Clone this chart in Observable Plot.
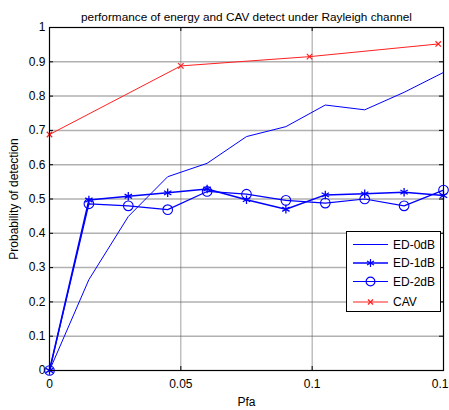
<!DOCTYPE html>
<html>
<head>
<meta charset="utf-8">
<script src="https://cdn.jsdelivr.net/npm/d3@7"></script>
<script src="https://cdn.jsdelivr.net/npm/@observablehq/plot@0.6"></script>
<style>
  html, body { margin: 0; padding: 0; background: white; overflow: hidden; }
  #wrap { position: relative; width: 449px; height: 410px; overflow: hidden; font-family: "Liberation Sans", Arial, sans-serif; }
  #legend { position: absolute; left: 346px; top: 231px; }
</style>
</head>
<body>
<div id="wrap"></div>
<script>
// ---- data ----
const title = "performance of energy and CAV detect under Rayleigh channel";
const xLabel = "Pfa";
const yLabel = "Probability of detection";
const pfa   = [0, 0.015, 0.03, 0.045, 0.06, 0.075, 0.09, 0.105, 0.12, 0.135, 0.15];
const ed0dB = [0, 0.265, 0.449, 0.565, 0.604, 0.682, 0.711, 0.774, 0.760, 0.811, 0.869];
const ed1dB = [0, 0.497, 0.508, 0.518, 0.529, 0.498, 0.470, 0.512, 0.515, 0.520, 0.510];
const ed2dB = [0, 0.486, 0.480, 0.469, 0.522, 0.514, 0.496, 0.488, 0.500, 0.480, 0.526];
const cavPfa = [0, 0.05, 0.099, 0.148];
const cav    = [0.688, 0.888, 0.915, 0.952];
const seriesNames = ["ED-0dB", "ED-1dB", "ED-2dB", "CAV"];
const xTicks = [0, 0.05, 0.1, 0.15];
const yTicks = [0, 0.1, 0.2, 0.3, 0.4, 0.5, 0.6, 0.7, 0.8, 0.9, 1];

const blue = "#0000ff", red = "#ff2020";
const rows = (xs, ys, name) => xs.map((x, i) => ({x, y: ys[i], name}));
const d0 = rows(pfa, ed0dB, seriesNames[0]);
const d1 = rows(pfa, ed1dB, seriesNames[1]);
const d2 = rows(pfa, ed2dB, seriesNames[2]);
const dc = rows(cavPfa, cav, seriesNames[3]);

const W = 449, H = 410, mL = 49, mR = 6, mT = 27, mB = 40;
const fw = W - mL - mR, fh = H - mT - mB, tk = 4;

const chart = Plot.plot({
  width: W, height: H,
  marginLeft: mL, marginRight: mR, marginTop: mT, marginBottom: mB,
  style: {fontFamily: "'Liberation Sans', Arial, sans-serif", fontSize: "12px", background: "white", color: "black"},
  x: {domain: [0, 0.15]},
  y: {domain: [0, 1]},
  marks: [
    Plot.gridY(yTicks.slice(1, -1), {stroke: "#909090", strokeOpacity: 0.7, strokeWidth: 1.5}),
    Plot.gridX(xTicks.slice(1, -1), {stroke: "#606060", strokeOpacity: 0.6, strokeWidth: 1}),
    Plot.line(d0, {x: "x", y: "y", stroke: blue, strokeWidth: 1}),
    Plot.line(d1, {x: "x", y: "y", stroke: blue, strokeWidth: 1.5}),
    Plot.dot(d1, {x: "x", y: "y", symbol: "asterisk", r: 4, stroke: blue, strokeWidth: 1.3}),
    Plot.line(d2, {x: "x", y: "y", stroke: blue, strokeWidth: 1.2}),
    Plot.dot(d2, {x: "x", y: "y", symbol: "circle", r: 4.8, fill: "none", stroke: blue, strokeWidth: 1.1}),
    Plot.line(dc, {x: "x", y: "y", stroke: red, strokeWidth: 1}),
    Plot.dot(dc, {x: "x", y: "y", symbol: "times", r: 2.6, stroke: red, strokeWidth: 1.2}),
    Plot.frame({stroke: "black", strokeWidth: 1.2}),
    Plot.tickX(xTicks, {x: d => d, insetTop: fh - tk, stroke: "black"}),
    Plot.tickX(xTicks, {x: d => d, insetBottom: fh - tk, stroke: "black"}),
    Plot.tickY(yTicks, {y: d => d, insetRight: fw - tk, stroke: "black"}),
    Plot.tickY(yTicks, {y: d => d, insetLeft: fw - tk, stroke: "black"}),
    Plot.axisX(xTicks, {tickSize: 0, tickPadding: 9, tickFormat: d => String(d), fontSize: 12,
      label: xLabel, labelAnchor: "center", labelOffset: 35, labelArrow: "none"}),
    Plot.axisY(yTicks, {tickSize: 0, tickPadding: 4, tickFormat: d => String(d), fontSize: 12,
      label: yLabel, labelAnchor: "center", labelOffset: 40, labelArrow: "none"}),
    Plot.text([title], {frameAnchor: "top", dy: -15, fontSize: 11.8, fill: "black"})
  ]
});
document.getElementById("wrap").appendChild(chart);

// legend (HTML overlay)
const ns = "http://www.w3.org/2000/svg";
const lg = document.createElementNS(ns, "svg");
lg.setAttribute("id", "legend");
lg.setAttribute("width", 95);
lg.setAttribute("height", 81);
const legendItems = [
  {name: seriesNames[0], color: blue, sym: null, sw: 1},
  {name: seriesNames[1], color: blue, sym: d3.symbolAsterisk, sw: 1.5, size: 45},
  {name: seriesNames[2], color: blue, sym: d3.symbolCircle, sw: 1.2, size: 60},
  {name: seriesNames[3], color: red, sym: d3.symbolTimes, sw: 1, size: 18}
];
const rect = document.createElementNS(ns, "rect");
rect.setAttribute("x", 0.5); rect.setAttribute("y", 0.5);
rect.setAttribute("width", 94); rect.setAttribute("height", 80);
rect.setAttribute("fill", "white"); rect.setAttribute("stroke", "black");
lg.appendChild(rect);
const rowY = [13.5, 32, 50.5, 71];
legendItems.forEach((it, i) => {
  const y = rowY[i];
  const l = document.createElementNS(ns, "line");
  l.setAttribute("x1", 7); l.setAttribute("x2", 42);
  l.setAttribute("y1", y); l.setAttribute("y2", y);
  l.setAttribute("stroke", it.color); l.setAttribute("stroke-width", it.sw);
  lg.appendChild(l);
  if (it.sym) {
    const p = document.createElementNS(ns, "path");
    p.setAttribute("d", d3.symbol(it.sym, it.size)());
    p.setAttribute("transform", `translate(24.5,${y})`);
    p.setAttribute("fill", "none"); p.setAttribute("stroke", it.color); p.setAttribute("stroke-width", 1.2);
    lg.appendChild(p);
  }
  const t = document.createElementNS(ns, "text");
  t.setAttribute("x", 47); t.setAttribute("y", y);
  t.setAttribute("dy", "0.35em");
  t.setAttribute("font-size", "12px");
  t.setAttribute("font-family", "'Liberation Sans', Arial, sans-serif");
  t.textContent = it.name;
  lg.appendChild(t);
});
document.getElementById("wrap").appendChild(lg);
</script>
</body>
</html>
